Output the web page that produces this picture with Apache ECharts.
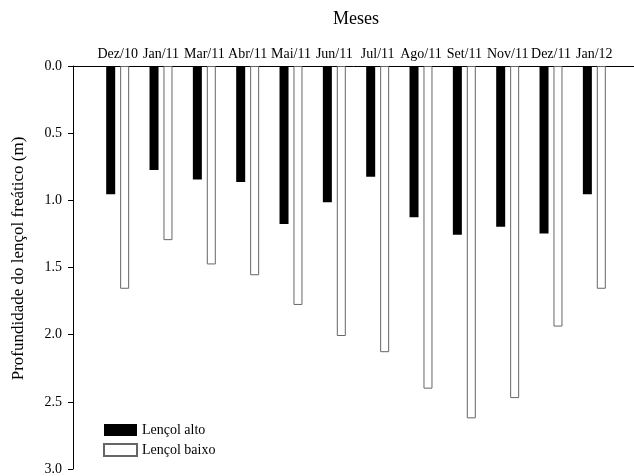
<!DOCTYPE html>
<html>
<head>
<meta charset="utf-8">
<script src="https://cdn.jsdelivr.net/npm/echarts@6/dist/echarts.min.js"></script>
<style>html,body{margin:0;padding:0;background:#fff}#c{width:634px;height:476px}</style>
</head>
<body>
<div id="c"></div>
<script>
const categories = ['Dez/10','Jan/11','Mar/11','Abr/11','Mai/11','Jun/11','Jul/11','Ago/11','Set/11','Nov/11','Dez/11','Jan/12'];
const lencolAlto = [0.95, 0.77, 0.84, 0.86, 1.17, 1.01, 0.82, 1.12, 1.25, 1.19, 1.24, 0.95];
const lencolBaixo = [1.65, 1.29, 1.47, 1.55, 1.77, 2.00, 2.12, 2.39, 2.61, 2.46, 1.93, 1.65];
const yTicks = [0, 0.5, 1.0, 1.5, 2.0, 2.5, 3.0];

const font = 'Liberation Serif';
const chart = echarts.init(document.getElementById('c'));
chart.setOption({
  animation: false,
  backgroundColor: '#fff',
  textStyle: { fontFamily: font },
  legend: {
    orient: 'vertical', left: 98, top: 418, icon: 'rect',
    itemWidth: 33, itemHeight: 12, itemGap: 6,
    textStyle: { fontFamily: font, fontSize: 14, color: '#000' },
    data: ['Lençol alto', 'Lençol baixo']
  },
  grid: [
    { left: 73, right: 0, top: 66, bottom: 5 },
    { left: 96, right: 18, top: 66, bottom: 5 }
  ],
  xAxis: [
    { gridIndex: 0, type: 'value', position: 'top', min: 0, max: 1,
      axisLine: { show: true, onZero: false, lineStyle: { color: '#000', width: 1 } },
      axisTick: { show: false }, axisLabel: { show: false }, splitLine: { show: false } },
    { gridIndex: 1, type: 'category', position: 'top', data: categories,
      name: 'Meses', nameLocation: 'middle', nameGap: 38,
      nameTextStyle: { fontFamily: font, fontSize: 18, color: '#000' },
      axisLine: { show: false }, axisTick: { show: false },
      axisLabel: { interval: 0, margin: 5, fontFamily: font, fontSize: 14, color: '#000' } }
  ],
  yAxis: [
    { gridIndex: 0, type: 'value', inverse: true, min: 0, max: 3, interval: 0.5,
      name: 'Profundidade do lençol freático (m)', nameLocation: 'middle', nameGap: 46,
      nameTextStyle: { fontFamily: font, fontSize: 17, color: '#000', padding: [0, 0, 0, 18] },
      axisLine: { show: true, lineStyle: { color: '#000', width: 1 } },
      axisTick: { show: true, length: 5, inside: false, lineStyle: { color: '#000' } },
      axisLabel: { margin: 11, fontFamily: font, fontSize: 14, color: '#000',
        formatter: v => (yTicks.indexOf(v) >= 0 ? v.toFixed(1) : '') },
      splitLine: { show: false } },
    { gridIndex: 1, type: 'value', inverse: true, min: 0, max: 3, interval: 0.5, show: false }
  ],
  series: [
    { name: 'Lençol alto', type: 'bar', xAxisIndex: 1, yAxisIndex: 1,
      data: lencolAlto, barWidth: 9, barGap: '55%',
      itemStyle: { color: '#000', borderColor: '#000', borderWidth: 0 } },
    { name: 'Lençol baixo', type: 'bar', xAxisIndex: 1, yAxisIndex: 1,
      data: lencolBaixo, barWidth: 9,
      itemStyle: { color: '#fff', borderColor: '#666', borderWidth: 1 } }
  ]
});
</script>
</body>
</html>
